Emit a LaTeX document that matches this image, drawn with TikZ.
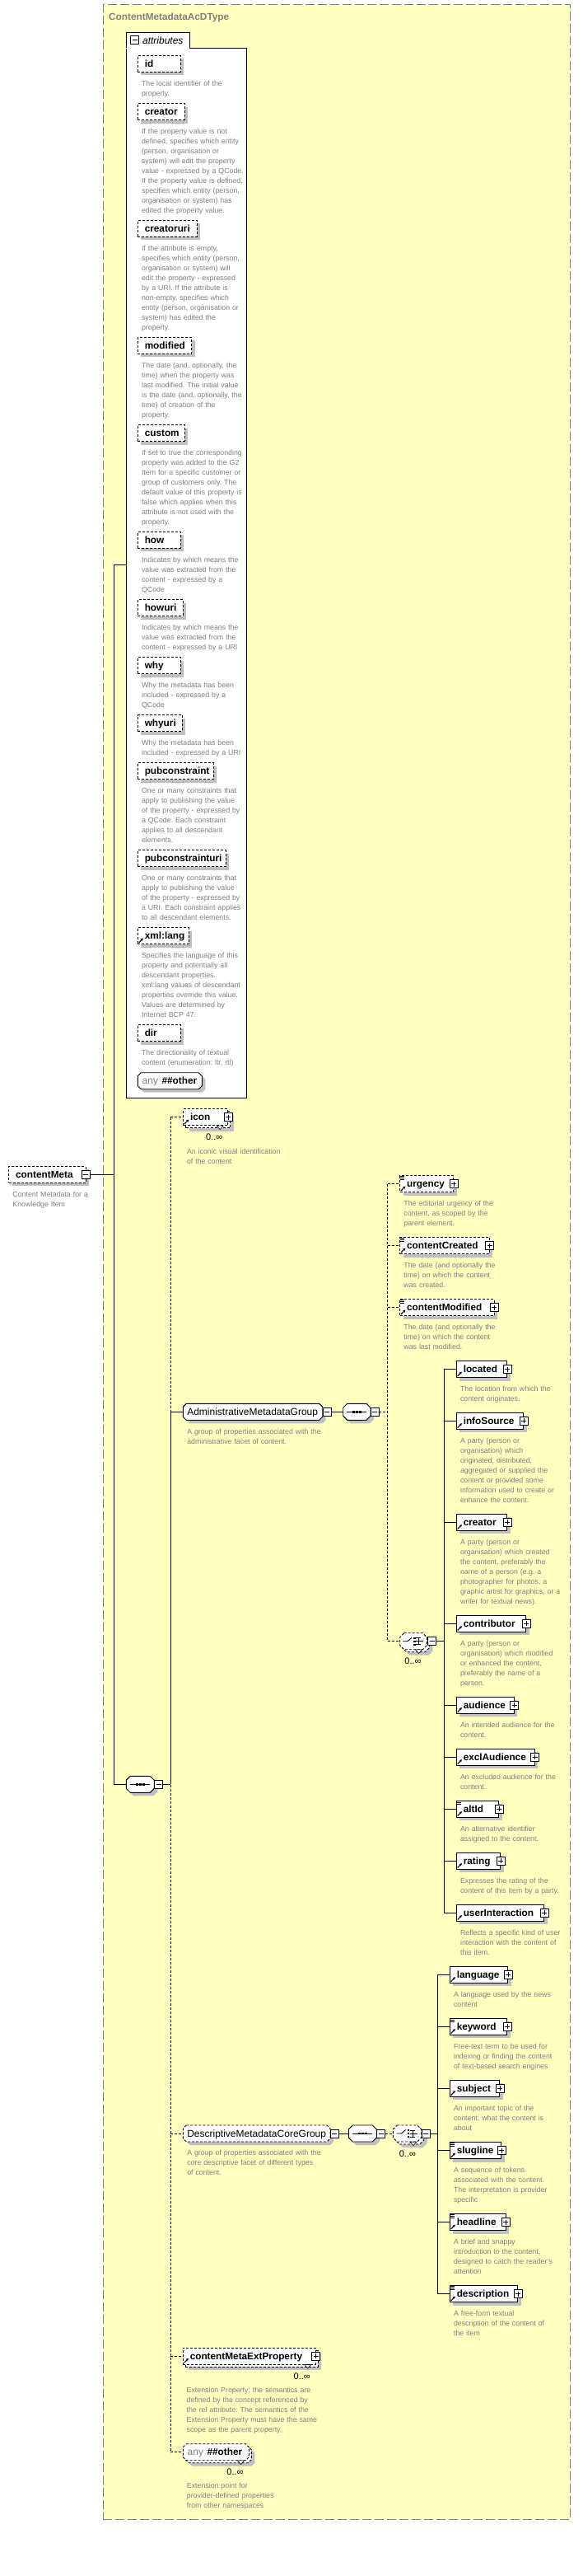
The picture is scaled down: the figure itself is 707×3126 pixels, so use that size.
\documentclass[tikz,border=0pt]{standalone}
\usepackage{fontspec}
\setmainfont{Liberation Sans}
\usetikzlibrary{calc,shadows,arrows.meta}
\definecolor{ybg}{RGB}{255,255,192}
\definecolor{shadowgray}{RGB}{192,192,192}
\definecolor{descgray}{RGB}{128,128,128}
\definecolor{bordergray}{RGB}{128,128,128}
\tikzset{
 ebox/.style={draw, fill=white, line width=0.9pt, minimum height=20pt, inner sep=0pt},
 shad/.style={general shadow={fill=shadowgray, shadow xshift=4pt, shadow yshift=-4pt}},
 opt/.style={dash pattern=on 3pt off 2pt},
 ename/.style={font=\fontsize{11.8}{14}\selectfont\bfseries, inner sep=0pt},
 gname/.style={font=\fontsize{12}{14}\selectfont, inner sep=0pt},
 desc/.style={font=\fontsize{8.8}{12}\selectfont\frenchspacing, text=descgray, anchor=base west, align=left, text width=300pt, inner sep=0pt},
 conn/.style={line width=0.9pt},
 dconn/.style={line width=0.9pt, dash pattern=on 3pt off 2pt},
 pmbox/.style={draw, fill=white, line width=0.8pt, solid},
 pmline/.style={line width=0.8pt, solid},
 refarr/.style={line width=1.1pt, solid, -{Stealth[length=3.2pt,width=3.4pt]}},
 mult/.style={font=\fontsize{11}{13}\selectfont, inner sep=0pt},
}
\newcommand\mkel[6]{%
  \pgfmathsetmacro\mkw{#5-#3}%
  \node[ebox,shad,#2,minimum width=\mkw pt] (#1) at ({(#3+#5)/2},{#4+10}) {};%
  \node[ename,anchor=base west] (#1-t) at ([shift={(8.7,4.2)}]#1.west) {#6};}
\newcommand\mkmul[1]{%
  \draw[fill=white,line width=0.6pt] ($(#1.south east)+(-14,0)$) -- ($(#1.south east)+(-6,0)$) -- ($(#1.south east)+(-10,4.5)$) -- cycle;%
  \node[mult] (#1-m) at ($(#1.south east)+(-17,14)$) {0..∞};}
\newcommand\mkelm[6]{%
  \pgfmathsetmacro\mkw{#5-#3}%
  \node[ebox,shad,#2,minimum width=\mkw pt] (#1-bk) at ({(#3+#5)/2+3},{#4+13}) {};%
  \node[ebox,#2,minimum width=\mkw pt] (#1) at ({(#3+#5)/2},{#4+10}) {};%
  \node[ename,anchor=base west] (#1-t) at ([shift={(8.7,4.2)}]#1.west) {#6};%
  \mkmul{#1}}
\newcommand\mkd[2]{\node[desc] (#1-d) at ([shift={(5,16.5)}]#1.south west) {#2};}
\newcommand\mkdm[2]{\node[desc] (#1-d) at ([shift={(4.6,34)}]#1.south west) {#2};}
\newcommand\mkplus[1]{%
  \draw[pmbox] ($(#1)+(-5,-5)$) rectangle ($(#1)+(5,5)$);%
  \draw[pmline] ($(#1)+(-3,0)$) -- ($(#1)+(3,0)$) ($(#1)+(0,-3)$) -- ($(#1)+(0,3)$);}
\newcommand\mkminus[1]{%
  \draw[pmbox] ($(#1)+(-5,-5)$) rectangle ($(#1)+(5,5)$);%
  \draw[pmline] ($(#1)+(-3,0)$) -- ($(#1)+(3,0)$);}
\newcommand\mkref[1]{\draw[refarr] ($(#1.south west)+(1.8,-2.2)$) -- ($(#1.south west)+(7,-7.6)$);}
\newcommand\mkdoc[1]{\draw[line width=0.8pt,solid] ($(#1.north west)+(1,1)$) -- +(5,0) ($(#1.north west)+(1,3)$) -- +(5,0) ($(#1.north west)+(1,5)$) -- +(5,0);}
\newcommand\mkoct[7]{%
  \pgfmathsetmacro\mkw{#5-#3}%
  \fill[shadowgray] ({#3+#6+#7},{#4+#7}) -- ({#5-#6+#7},{#4+#7}) -- ({#5+#7},{#4+#6+#7}) -- ({#5+#7},{#4+20-#6+#7}) -- ({#5-#6+#7},{#4+20+#7}) -- ({#3+#6+#7},{#4+20+#7}) -- ({#3+#7},{#4+20-#6+#7}) -- ({#3+#7},{#4+#6+#7}) -- cycle;%
  \draw[fill=white,line width=0.9pt,#2] ({#3+#6},{#4}) -- ({#5-#6},{#4}) -- ({#5},{#4+#6}) -- ({#5},{#4+20-#6}) -- ({#5-#6},{#4+20}) -- ({#3+#6},{#4+20}) -- ({#3},{#4+20-#6}) -- ({#3},{#4+#6}) -- cycle;%
  \node[inner sep=0pt,minimum height=20pt,minimum width=\mkw pt] (#1) at ({(#3+#5)/2},{#4+10}) {};}
\newcommand\mkseq[1]{%
  \draw[line width=0.9pt] ($(#1.center)+(-12,0)$) -- ($(#1.center)+(12,0)$);%
  \foreach \mkdx in {-4,0,4}{\fill ($(#1.center)+(\mkdx-1.3,-1.3)$) rectangle ++(2.6,2.6);}}
\newcommand\mkcho[1]{%
  \draw[line width=0.9pt] ($(#1.center)+(-13,0)$) -- ($(#1.center)+(-7,0)$) -- ($(#1.center)+(-2,-4.5)$);%
  \foreach \mkdy in {-4,0,4}{\fill ($(#1.center)+(0.2,\mkdy-1.2)$) rectangle ++(2.4,2.4);}%
  \draw[line width=0.9pt] ($(#1.center)+(3,-4)$) -- ($(#1.center)+(9,-4)$) ($(#1.center)+(3,0)$) -- ($(#1.center)+(12,0)$) ($(#1.center)+(3,4)$) -- ($(#1.center)+(9,4)$) ($(#1.center)+(6.5,-4)$) -- ($(#1.center)+(6.5,4)$);}
\begin{document}
\begin{tikzpicture}[x=1pt,y=-1pt]
\useasboundingbox (0,0) rectangle (707,3126);
\node[draw=bordergray,fill=ybg,line width=1pt,dash pattern=on 11pt off 4pt,inner sep=0pt,minimum width=567.7pt,minimum height=3051.3pt] (ctype) at (408.85,1531.65) {};
\node[ename,text=descgray,anchor=base west] (ctitle) at (132,24.2) {ContentMetadataAcDType};

% ---------- attributes box
\node[draw,fill=white,line width=0.9pt,inner sep=0pt,minimum width=146pt,minimum height=1273.7pt] (attrbox) at (226.3,695.15) {};
\node[draw,fill=white,line width=0.9pt,inner sep=0pt,minimum width=77.3pt,minimum height=19pt] (attrtab) at (191.95,48.8) {};
\draw[white,line width=1.4pt] ([xshift=0.6pt]attrtab.south west) -- ([xshift=-0.6pt]attrtab.south east);
\coordinate (attrm) at (163.5,48.8);
\mkminus{attrm}
\node[font=\fontsize{12}{14}\selectfont\itshape,anchor=base west,inner sep=0pt] (attrlbl) at (172.9,53) {attributes};

\mkel{aid}{opt}{167.3}{67.3}{219}{id}
\mkd{aid}{The local identifier of the\\property.}
\mkel{acre}{opt}{167.3}{125.7}{224}{creator}
\mkd{acre}{If the property value is not\\defined, specifies which entity\\(person, organisation or\\system) will edit the property\\value - expressed by a QCode.\\If the property value is defined,\\specifies which entity (person,\\organisation or system) has\\edited the property value.}
\mkel{acreu}{opt}{167.3}{267.3}{239}{creatoruri}
\mkd{acreu}{If the attribute is empty,\\specifies which entity (person,\\organisation or system) will\\edit the property - expressed\\by a URI. If the attribute is\\non-empty, specifies which\\entity (person, organisation or\\system) has edited the\\property.}
\mkel{amod}{opt}{167.3}{409.3}{232.7}{modified}
\mkd{amod}{The date (and, optionally, the\\time) when the property was\\last modified. The initial value\\is the date (and, optionally, the\\time) of creation of the\\property.}
\mkel{acus}{opt}{167.3}{515.7}{224}{custom}
\mkd{acus}{If set to true the corresponding\\property was added to the G2\\Item for a specific customer or\\group of customers only. The\\default value of this property is\\false which applies when this\\attribute is not used with the\\property.}
\mkel{ahow}{opt}{167.3}{645.3}{219}{how}
\mkd{ahow}{Indicates by which means the\\value was extracted from the\\content - expressed by a\\QCode}
\mkel{ahowu}{opt}{167.3}{727.7}{222}{howuri}
\mkd{ahowu}{Indicates by which means the\\value was extracted from the\\content - expressed by a URI}
\mkel{awhy}{opt}{167.3}{797.7}{219}{why}
\mkd{awhy}{Why the metadata has been\\included - expressed by a\\QCode}
\mkel{awhyu}{opt}{167.3}{867.7}{221}{whyuri}
\mkd{awhyu}{Why the metadata has been\\included - expressed by a URI}
\mkel{apub}{opt}{167.3}{925.7}{259.3}{pubconstraint}
\mkd{apub}{One or many constraints that\\apply to publishing the value\\of the property - expressed by\\a QCode. Each constraint\\applies to all descendant\\elements.}
\mkel{apubu}{opt}{167.3}{1031.7}{274.3}{pubconstrainturi}
\mkd{apubu}{One or many constraints that\\apply to publishing the value\\of the property - expressed by\\a URI. Each constraint applies\\to all descendant elements.}
\mkel{alang}{opt}{167.3}{1125.7}{229.3}{xml:lang}
\mkref{alang}
\mkd{alang}{Specifies the language of this\\property and potentially all\\descendant properties.\\xml:lang values of descendant\\properties override this value.\\Values are determined by\\Internet BCP 47.}
\mkel{adir}{opt}{167.3}{1243.7}{219}{dir}
\mkd{adir}{The directionality of textual\\content (enumeration: ltr, rtl)}
\mkoct{aany}{}{167.3}{1301.7}{245.3}{4}{4}
\node[anchor=base west,inner sep=0pt] (aany-t) at ([shift={(5.4,4.2)}]aany.west) {{\fontsize{12}{14}\selectfont\color{descgray}any}\hspace{4.5pt}{\fontsize{11.8}{14}\selectfont\bfseries\#\#other}};

% ---------- contentMeta
\mkel{cm}{opt}{10.7}{1415.3}{104}{contentMeta}
\mkminus{cm.east}
\mkd{cm}{Content Metadata for a\\Knowledge Item}

% ---------- main sequence
\mkoct{seq1}{}{153.3}{2155.3}{187.3}{5}{4}
\mkseq{seq1}
\coordinate (seq1m) at ([xshift=5pt]seq1.east);
\mkminus{seq1m}

% ---------- children of main sequence
\mkelm{icon}{opt}{222.7}{1345.7}{276.7}{icon}
\mkref{icon}
\mkplus{icon.east}
\mkdm{icon}{An iconic visual identification\\of the content}

\mkoct{admin}{}{222.3}{1703.3}{391.7}{4}{4}
\node[gname,anchor=base west] (admin-t) at ([shift={(5,4.2)}]admin.west) {AdministrativeMetadataGroup};
\coordinate (adminm) at ([xshift=5pt]admin.east);
\mkminus{adminm}
\mkd{admin}{A group of properties associated with the\\administrative facet of content.}

\mkoct{descg}{opt}{222.3}{2579}{401}{4}{4}
\node[gname,anchor=base west] (descg-t) at ([shift={(5,4.2)}]descg.west) {DescriptiveMetadataCoreGroup};
\coordinate (descgm) at ([xshift=5pt]descg.east);
\mkminus{descgm}
\mkd{descg}{A group of properties associated with the\\core descriptive facet of different types\\of content.}

\mkelm{ext}{opt}{222.3}{2849}{383.3}{contentMetaExtProperty}
\mkref{ext}
\mkplus{ext.east}
\mkdm{ext}{Extension Property; the semantics are\\defined by the concept referenced by\\the rel attribute. The semantics of the\\Extension Property must have the same\\scope as the parent property.}

\mkoct{anyzb}{opt}{225.3}{2968.7}{305.3}{4}{4}
\mkoct{anyz}{opt}{222.3}{2965.7}{302.3}{4}{0}
\node[anchor=base west,inner sep=0pt] (anyz-t) at ([shift={(5.4,4.2)}]anyz.west) {{\fontsize{12}{14}\selectfont\color{descgray}any}\hspace{4.5pt}{\fontsize{11.8}{14}\selectfont\bfseries\#\#other}};
\mkmul{anyz}
\mkdm{anyz}{Extension point for\\provider-defined properties\\from other namespaces}

% ---------- administrative group content
\mkoct{seq2}{}{416.7}{1703.3}{450}{5}{4}
\mkseq{seq2}
\coordinate (seq2m) at ([xshift=5pt]seq2.east);
\mkminus{seq2m}

\mkel{urg}{opt}{485.7}{1426.7}{550.7}{urgency}
\mkdoc{urg}\mkref{urg}\mkplus{urg.east}
\mkd{urg}{The editorial urgency of the\\content, as scoped by the\\parent element.}
\mkel{ccr}{opt}{485.7}{1501.7}{594.3}{contentCreated}
\mkdoc{ccr}\mkref{ccr}\mkplus{ccr.east}
\mkd{ccr}{The date (and optionally the\\time) on which the content\\was created.}
\mkel{cmod}{opt}{485.7}{1576.7}{600}{contentModified}
\mkdoc{cmod}\mkref{cmod}\mkplus{cmod.east}
\mkd{cmod}{The date (and optionally the\\time) on which the content\\was last modified.}

\mkoct{cho1b}{opt}{488.7}{1984.7}{521.3}{5}{4}
\mkoct{cho1}{opt}{485.7}{1981.7}{518.3}{5}{0}
\mkcho{cho1}
\mkmul{cho1}
\coordinate (cho1m) at ([xshift=6pt]cho1.east);
\mkminus{cho1m}

\mkel{loc}{}{554.3}{1651.7}{615.7}{located}
\mkref{loc}\mkplus{loc.east}
\mkd{loc}{The location from which the\\content originates.}
\mkel{info}{}{554.3}{1714.3}{635.7}{infoSource}
\mkref{info}\mkplus{info.east}
\mkd{info}{A party (person or\\organisation) which\\originated, distributed,\\aggregated or supplied the\\content or provided some\\information used to create or\\enhance the content.}
\mkel{ecre}{}{554.3}{1837.3}{615.7}{creator}
\mkref{ecre}\mkplus{ecre.east}
\mkd{ecre}{A party (person or\\organisation) which created\\the content, preferably the\\name of a person (e.g. a\\photographer for photos, a\\graphic artist for graphics, or a\\writer for textual news).}
\mkel{contr}{}{554.3}{1960.3}{638.7}{contributor}
\mkref{contr}\mkplus{contr.east}
\mkd{contr}{A party (person or\\organisation) which modified\\or enhanced the content,\\preferably the name of a\\person.}
\mkel{aud}{}{554.3}{2059.3}{624.3}{audience}
\mkref{aud}\mkplus{aud.east}
\mkd{aud}{An intended audience for the\\content.}
\mkel{excl}{}{554.3}{2122.3}{649.3}{exclAudience}
\mkref{excl}\mkplus{excl.east}
\mkd{excl}{An excluded audience for the\\content.}
\mkel{alt}{}{554.3}{2185.3}{605.7}{altId}
\mkdoc{alt}\mkref{alt}\mkplus{alt.east}
\mkd{alt}{An alternative identifier\\assigned to the content.}
\mkel{rat}{}{554.3}{2248.3}{607.7}{rating}
\mkref{rat}\mkplus{rat.east}
\mkd{rat}{Expresses the rating of the\\content of this item by a party.}
\mkel{ui}{}{554.3}{2311.3}{660.7}{userInteraction}
\mkref{ui}\mkplus{ui.east}
\mkd{ui}{Reflects a specific kind of user\\interaction with the content of\\this item.}

% ---------- descriptive group content
\mkoct{seq3}{}{423.3}{2579}{457.3}{5}{4}
\mkseq{seq3}
\coordinate (seq3m) at ([xshift=5pt]seq3.east);
\mkminus{seq3m}
\mkoct{cho2b}{opt}{480.3}{2582}{514.7}{5}{4}
\mkoct{cho2}{opt}{477.3}{2579}{511.7}{5}{0}
\mkcho{cho2}
\mkmul{cho2}
\coordinate (cho2m) at ([xshift=5pt]cho2.east);
\mkminus{cho2m}

\mkel{lang}{}{546.3}{2386.3}{616.7}{language}
\mkref{lang}\mkplus{lang.east}
\mkd{lang}{A language used by the news\\content}
\mkel{kw}{}{546.3}{2449.3}{615.7}{keyword}
\mkdoc{kw}\mkref{kw}\mkplus{kw.east}
\mkd{kw}{Free-text term to be used for\\indexing or finding the content\\of text-based search engines}
\mkel{subj}{}{546.3}{2524.3}{606.7}{subject}
\mkref{subj}\mkplus{subj.east}
\mkd{subj}{An important topic of the\\content; what the content is\\about}
\mkel{slug}{}{546.3}{2599.7}{608.7}{slugline}
\mkdoc{slug}\mkref{slug}\mkplus{slug.east}
\mkd{slug}{A sequence of tokens\\associated with the content.\\The interpretation is provider\\specific}
\mkel{head}{}{546.3}{2686.7}{614}{headline}
\mkdoc{head}\mkref{head}\mkplus{head.east}
\mkd{head}{A brief and snappy\\introduction to the content,\\designed to catch the reader's\\attention}
\mkel{descr}{}{546.3}{2773.7}{628.7}{description}
\mkdoc{descr}\mkref{descr}\mkplus{descr.east}
\mkd{descr}{A free-form textual\\description of the content of\\the item}

% ---------- connectors
\coordinate (b1t) at (138.3,685.7);
\coordinate (b1b) at (138.3,2165.3);
\draw[conn] ([xshift=5pt]cm.east) -- (cm.east -| b1t);
\draw[conn] (b1t) -- (b1b);
\draw[conn] (b1t) -- (b1t -| attrbox.west);
\draw[conn] (b1b) -- (seq1.west);

\coordinate (b2t) at (207.3,1355.7);
\coordinate (b2z) at (207.3,2975.7);
\draw[dconn] (b2t) -- (b2z);
\draw[conn] (b2t |- admin.west) -- (b2t |- seq1.east);
\draw[conn] ([xshift=5pt]seq1m) -- (b2t |- seq1.east);
\draw[dconn] (b2t) -- (icon.west);
\draw[conn] (b2t |- admin.west) -- (admin.west);
\draw[dconn] (b2t |- descg.west) -- (descg.west);
\draw[dconn] (b2t |- ext.west) -- (ext.west);
\draw[dconn] (b2z) -- (anyz.west);

\draw[conn] ([xshift=5pt]adminm) -- (seq2.west);
\coordinate (b3t) at (470.7,1436.7);
\coordinate (b3z) at (470.7,1991.7);
\draw[dconn] ([xshift=5pt]seq2m) -- (b3t |- seq2.east);
\draw[dconn] (b3t) -- (b3z);
\draw[dconn] (b3t) -- (urg.west);
\draw[dconn] (b3t |- ccr.west) -- (ccr.west);
\draw[dconn] (b3t |- cmod.west) -- (cmod.west);
\draw[dconn] (b3z) -- (cho1.west);

\coordinate (b4t) at (539.3,1661.7);
\coordinate (b4z) at (539.3,2321.3);
\draw[conn] ([xshift=5pt]cho1m) -- (b4t |- cho1.east);
\draw[conn] (b4t) -- (b4z);
\foreach \nn in {loc,info,ecre,contr,aud,excl,alt,rat,ui}{\draw[conn] (b4t |- \nn.west) -- (\nn.west);}

\draw[conn] ([xshift=5pt]descgm) -- (seq3.west);
\draw[dconn] ([xshift=5pt]seq3m) -- (cho2.west);
\coordinate (b5t) at (531.7,2396.3);
\coordinate (b5z) at (531.7,2783.7);
\draw[conn] ([xshift=5pt]cho2m) -- (b5t |- cho2.east);
\draw[conn] (b5t) -- (b5z);
\foreach \nn in {lang,kw,subj,slug,head,descr}{\draw[conn] (b5t |- \nn.west) -- (\nn.west);}
\end{tikzpicture}
\end{document}
